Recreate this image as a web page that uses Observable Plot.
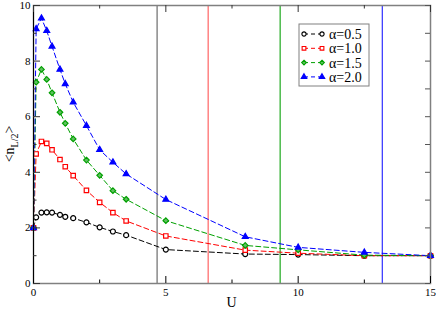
<!DOCTYPE html>
<html>
<head>
<meta charset="utf-8">
<script src="https://cdn.jsdelivr.net/npm/d3@7"></script>
<script src="https://cdn.jsdelivr.net/npm/@observablehq/plot@0.6"></script>
<style>
  html, body { margin: 0; padding: 0; background: #fff; }
  #chart { width: 436px; height: 310px; }
</style>
</head>
<body>
<div id="chart"></div>
<script>
// ---- data ----
const U    = [0, 0.1, 0.3, 0.5, 0.7, 1.0, 1.2, 1.5, 2.0, 2.5, 3.0, 3.5, 5.0, 8.0, 10, 12.5, 15];
const a05  = [2.0, 2.38, 2.55, 2.56, 2.55, 2.47, 2.40, 2.35, 2.20, 2.02, 1.87, 1.74, 1.22, 1.06, 1.04, 1.0, 1.0];
const a10  = [2.0, 4.66, 5.11, 5.04, 4.81, 4.46, 4.20, 3.88, 3.35, 2.92, 2.55, 2.25, 1.71, 1.20, 1.09, 1.0, 1.0];
const a15  = [2.0, 7.24, 7.70, 7.34, 6.86, 6.16, 5.76, 5.20, 4.44, 3.89, 3.34, 3.03, 2.26, 1.37, 1.21, 1.02, 1.0];
const a20  = [2.0, 9.16, 9.54, 9.09, 8.53, 7.70, 7.18, 6.52, 5.68, 4.81, 4.36, 3.94, 3.02, 1.68, 1.30, 1.12, 1.0];
const seriesNames = ["α=0.5", "α=1.0", "α=1.5", "α=2.0"];
const critU = [4.67, 6.6, 9.32, 13.18];
const xMajor = [0, 5, 10, 15];
const xMinor = [2.5, 7.5, 12.5];
const yMajor = [0, 2, 4, 6, 8, 10];
const yMinor = [1, 3, 5, 7, 9];

// ---- styles ----
const W = 436, H = 310, mL = 33, mR = 6, mT = 5, mB = 27;
const plotW = W - mL - mR, plotH = H - mT - mB;
const colors = ["#000000", "#ff0000", "#00a000", "#0000ff"];
const vColors = ["#777777", "#ff7070", "#30b030", "#4040ff"];
const symbols = ["circle", "square", "diamond2", "triangle2"];
const fills = ["#ffffff", "#ffffff", "#60c060", "#0000ff"];

const vals = [a05, a10, a15, a20];
const series = vals.map(arr => U.map((u, i) => ({U: u, n: arr[i]})));

const marks = [];
// vertical critical lines
critU.forEach((c, i) => marks.push(Plot.ruleX([c], {stroke: vColors[i], strokeWidth: 1.3})));
// series
series.forEach((rows, i) => {
  marks.push(Plot.line(rows, {x: "U", y: "n", stroke: colors[i], strokeWidth: 1, strokeDasharray: "5,3"}));
});
series.forEach((rows, i) => {
  marks.push(Plot.dot(rows, {x: "U", y: "n", symbol: () => symbols[i], r: i === 3 ? 2.8 : 2.5,
    stroke: colors[i], fill: fills[i], strokeWidth: 1.2}));
});
// frame + axes
marks.push(Plot.frame({stroke: "#808080", strokeWidth: 1.5}));
marks.push(Plot.ruleX([0], {stroke: "#000", strokeWidth: 1}));
// ticks (inward)
marks.push(Plot.ruleX(xMajor, {insetTop: plotH - 7, stroke: "#000"}));
marks.push(Plot.ruleX(xMinor, {insetTop: plotH - 3.5, stroke: "#000"}));
marks.push(Plot.ruleX(xMajor, {insetBottom: plotH - 7, stroke: "#333"}));
marks.push(Plot.ruleX(xMinor, {insetBottom: plotH - 3.5, stroke: "#333"}));
marks.push(Plot.ruleY(yMajor, {insetRight: plotW - 7, stroke: "#333"}));
marks.push(Plot.ruleY(yMinor, {insetRight: plotW - 3.5, stroke: "#333"}));
marks.push(Plot.ruleY(yMajor.concat(yMinor), {insetLeft: plotW - 5, stroke: "#555"}));
marks.push(Plot.axisX(xMajor, {tickSize: 0, tickPadding: 5, fontSize: 11, label: null}));
marks.push(Plot.axisY(yMajor, {tickSize: 0, tickPadding: 3, fontSize: 11, label: null}));

const chart = Plot.plot({
  width: W, height: H,
  marginLeft: mL, marginRight: mR, marginTop: mT, marginBottom: mB,
  x: {domain: [0, 15]},
  y: {domain: [0, 10]},
  style: {fontFamily: "'Liberation Serif', serif", color: "#000", background: "#fff", overflow: "visible"},
  marks
});
document.getElementById("chart").appendChild(chart);

const svg = d3.select(chart);
// x label
svg.append("text").attr("x", mL + plotW / 2).attr("y", H - 3)
  .attr("text-anchor", "middle").attr("font-size", 14).attr("fill", "#000").text("U");
// y label
const yl = svg.append("text").attr("transform", `translate(14,${mT + plotH / 2}) rotate(-90)`)
  .attr("text-anchor", "middle").attr("font-size", 14).attr("fill", "#000");
yl.append("tspan").text("<n");
yl.append("tspan").attr("font-size", 10).attr("dy", 4).text("L/2");
yl.append("tspan").attr("dy", -4).text(">");

// legend
const lg = svg.append("g").attr("text-anchor", "start");
lg.append("rect").attr("x", 299).attr("y", 24).attr("width", 70).attr("height", 62)
  .attr("fill", "#fff").attr("stroke", "#808080").attr("stroke-width", 1);
const d3sym = {circle: d3.symbolCircle, square: d3.symbolSquare, diamond2: d3.symbolDiamond2, triangle2: d3.symbolTriangle2};
seriesNames.forEach((name, i) => {
  const y = 34 + i * 14.3;
  lg.append("line").attr("x1", 304).attr("x2", 322).attr("y1", y).attr("y2", y)
    .attr("stroke", colors[i]).attr("stroke-dasharray", "4,3");
  [304, 322].forEach(x => {
    lg.append("path").attr("transform", `translate(${x},${y})`)
      .attr("d", d3.symbol(d3sym[symbols[i]], i === 3 ? 22 : 14)())
      .attr("fill", fills[i]).attr("stroke", colors[i]).attr("stroke-width", 1.1);
  });
  lg.append("text").attr("x", 329).attr("y", y + 5).attr("font-size", 14)
    .attr("text-anchor", "start").attr("fill", "#000").text(name);
});
</script>
</body>
</html>
